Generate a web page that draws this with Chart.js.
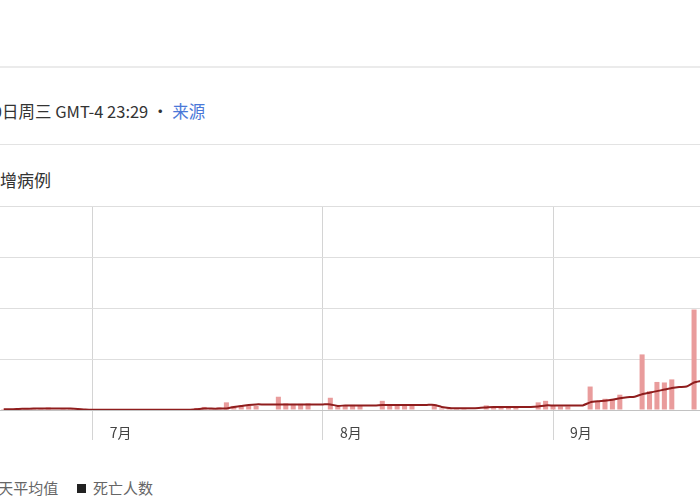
<!DOCTYPE html>
<html>
<head>
<meta charset="utf-8">
<script src="https://cdn.jsdelivr.net/npm/chart.js@4.4.1/dist/chart.umd.min.js"></script>
<style>
  html, body { margin: 0; padding: 0; background: #fff; overflow: hidden; }
  body { width: 700px; height: 500px; position: relative; font-family: "Noto Sans CJK SC", "Noto Sans", sans-serif; }
  .rule1 { position: absolute; left: 0; top: 66px; width: 700px; height: 2px; background: #ebebeb; }
  .rule2 { position: absolute; left: 0; top: 144px; width: 700px; height: 1px; background: #e3e3e3; }
  .stamp { position: absolute; top: 99px; left: -42px; font-size: 16.5px; color: #333; white-space: nowrap; }
  .stamp a { color: #4a78d8; text-decoration: none; }
  .title { position: absolute; top: 167px; left: -17px; font-size: 17px; color: #333; white-space: nowrap; }
  .box { position: absolute; left: 0; top: 200px; width: 700px; height: 250px; }
  .legend { position: absolute; top: 477px; font-size: 15px; color: #666; white-space: nowrap; }
  .sq { display: inline-block; width: 9px; height: 9px; background: #222; margin-right: 7px; vertical-align: 1px; }
</style>
</head>
<body>
<div class="rule1"></div>
<div class="stamp">9月30日周三 GMT-4 23:29 · <a href="#">来源</a></div>
<div class="rule2"></div>
<div class="title">新增病例</div>
<div class="box"><canvas id="casesChart"></canvas></div>
<div class="legend" style="left:-10px">7天平均值</div>
<div class="legend" style="left:77px"><span class="sq"></span>死亡人数</div>

<script>
// day 0 = 7月1日, first bar is 6月19日
var firstDay = -12;
var monthLabels = ['7月', '8月', '9月'];
var monthStarts = [0, 31, 62];
var yTicks = [0, 100, 200, 300, 400];

var newCases = [
  2, 0, 3, 4, 2, 3, 5, 1, 3, 2, 0, 0,
  0, 1, 0, 0, 1, 0, 0, 0, 1, 0, 0, 0, 1, 0,
  4, 6, 3, 5,
  15, 8, 9, 8, 8, 0, 0,
  26, 13, 12, 12, 13, 0, 0,
  24, 10, 9, 10, 9, 0, 0,
  18, 10, 9, 9, 10, 0, 0,
  11, 3, 3, 2, 3, 0, 0,
  9, 6, 7, 6, 7, 0, 0,
  15, 18, 8, 7, 7, 0, 0,
  46, 16, 22, 22, 30, 0, 0,
  109, 37, 55, 54, 60, 0, 0,
  197
];

var avg7 = [
  1.5, 1.5, 2, 2.5, 2.7, 2.7, 2.7, 2.7, 2.7, 2.7, 2, 1,
  0.5, 0.5, 0.5, 0.5, 0.5, 0.5, 0.5, 0.5, 0.5, 0.5, 0.5, 0.5, 0.5, 0.5,
  1.5, 2.7, 2.7, 2.7,
  3, 6, 8, 10, 11, 11, 11,
  11, 11, 11, 11, 11, 11, 11,
  11, 8, 9, 9, 9, 9, 9,
  10, 10, 10, 10, 10, 10, 10,
  10, 6, 4, 3.5, 3.5, 3.5, 4,
  5, 6, 6, 6, 6, 6, 6,
  7, 9, 9, 9, 9, 9, 9,
  15, 17, 18, 20, 23, 25, 26,
  31, 34, 37, 40, 43, 45, 46,
  54, 57
];

(function () {
  var fam = '"Noto Sans CJK SC", "Noto Sans", sans-serif';
  var barPts = newCases.map(function (v, i) { return { x: firstDay + i, y: v }; });
  var avgPts = avg7.map(function (v, i) { return { x: firstDay + i, y: v }; });

  var ctx = document.getElementById('casesChart').getContext('2d');
  new Chart(ctx, {
    type: 'bar',
    data: {
      datasets: [
        { type: 'line', label: '7天平均值', data: avgPts, borderColor: '#8f1d1d', borderWidth: 2,
          pointRadius: 0, tension: 0.2, fill: false },
        { label: '新增病例', data: barPts, backgroundColor: '#e99c9c',
          barPercentage: 0.68, categoryPercentage: 1 }
      ]
    },
    options: {
      responsive: true,
      maintainAspectRatio: false,
      animation: false,
      layout: { padding: { top: 6, left: 0, right: 0, bottom: 0 } },
      plugins: { legend: { display: false }, tooltip: { enabled: false } },
      scales: {
        x: {
          type: 'linear',
          min: -12.5,
          max: 81.8,
          offset: false,
          afterBuildTicks: function (s) { s.ticks = monthStarts.map(function (v) { return { value: v }; }); },
          afterFit: function (s) { s.height = 40; },
          grid: { offset: false, color: '#d4d4d4', tickLength: 30 },
          border: { display: false },
          ticks: {
            autoSkip: false, maxRotation: 0, align: 'start', labelOffset: 17, padding: -16,
            color: '#444', font: { size: 14, family: fam },
            callback: function (v) { return monthLabels[monthStarts.indexOf(v)]; }
          }
        },
        y: {
          min: 0,
          max: 400,
          afterBuildTicks: function (s) { s.ticks = yTicks.map(function (v) { return { value: v }; }); },
          ticks: { display: false },
          grid: { drawTicks: false, color: function (c) { return c.tick && c.tick.value === 0 ? '#c2c2c2' : '#dedede'; } },
          border: { display: false }
        }
      }
    }
  });
})();
</script>
</body>
</html>
